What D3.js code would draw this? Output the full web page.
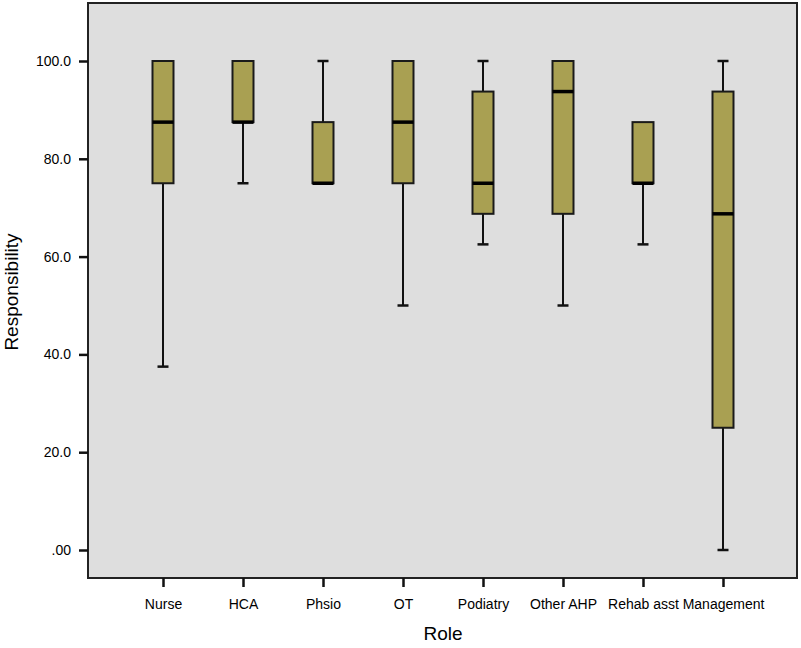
<!DOCTYPE html>
<html><head><meta charset="utf-8">
<script src="https://cdn.jsdelivr.net/npm/d3@7"></script>
<style>body{margin:0;background:#fff}svg{display:block}</style>
</head><body>
<svg id="c" width="801" height="648"></svg>
<script>
const categories = ["Nurse","HCA","Phsio","OT","Podiatry","Other AHP","Rehab asst","Management"];
const whiskerLow = [37.5, 75, 75, 50, 62.5, 50, 62.5, 0];
const q1 =         [75, 87.5, 75, 75, 68.75, 68.75, 75, 25];
const median =     [87.5, 87.5, 75, 87.5, 75, 93.75, 75, 68.75];
const q3 =         [100, 100, 87.5, 100, 93.75, 100, 87.5, 93.75];
const whiskerHigh =[100, 100, 100, 100, 100, 100, 87.5, 100];
const yTicks = [0, 20, 40, 60, 80, 100];
const yTickLabels = [".00", "20.0", "40.0", "60.0", "80.0", "100.0"];

const svg = d3.select("#c");
const plot = {left: 88, right: 797, top: 3, bottom: 578};
const x = d3.scalePoint().domain(categories).range([163, 723]);
const y = d3.scaleLinear().domain([0, 100]).range([550, 61]);
const font = "'Liberation Sans', Arial, sans-serif";

svg.append("rect").attr("x", plot.left).attr("y", plot.top)
  .attr("width", plot.right - plot.left).attr("height", plot.bottom - plot.top)
  .attr("fill", "#dedede");

const data = categories.map((c, i) => ({c, lo: whiskerLow[i], q1: q1[i], med: median[i], q3: q3[i], hi: whiskerHigh[i]}));
const bw = 21, cw = 11;
const g = svg.append("g");
data.forEach(d => {
  const cx = x(d.c);
  if (d.hi > d.q3) {
    g.append("line").attr("x1", cx).attr("x2", cx).attr("y1", y(d.q3)).attr("y2", y(d.hi)).attr("stroke", "#111").attr("stroke-width", 2);
    g.append("line").attr("x1", cx - cw/2).attr("x2", cx + cw/2).attr("y1", y(d.hi)).attr("y2", y(d.hi)).attr("stroke", "#111").attr("stroke-width", 2.5);
  }
  if (d.lo < d.q1) {
    g.append("line").attr("x1", cx).attr("x2", cx).attr("y1", y(d.q1)).attr("y2", y(d.lo)).attr("stroke", "#111").attr("stroke-width", 2);
    g.append("line").attr("x1", cx - cw/2).attr("x2", cx + cw/2).attr("y1", y(d.lo)).attr("y2", y(d.lo)).attr("stroke", "#111").attr("stroke-width", 2.5);
  }
  g.append("rect").attr("x", cx - bw/2).attr("y", y(d.q3)).attr("width", bw).attr("height", y(d.q1) - y(d.q3))
    .attr("fill", "#a9a052").attr("stroke", "#1a1a1a").attr("stroke-width", 2);
  g.append("line").attr("x1", cx - bw/2).attr("x2", cx + bw/2).attr("y1", y(d.med)).attr("y2", y(d.med)).attr("stroke", "#000").attr("stroke-width", 3.5);
});

svg.append("rect").attr("x", plot.left).attr("y", plot.top)
  .attr("width", plot.right - plot.left).attr("height", plot.bottom - plot.top)
  .attr("fill", "none").attr("stroke", "#222").attr("stroke-width", 2);

const yAxis = d3.axisLeft(y).tickValues(yTicks).tickSize(9).tickPadding(8)
  .tickFormat((v, i) => yTickLabels[i]);
const ya = svg.append("g").attr("transform", `translate(${plot.left},0)`).call(yAxis);
ya.select(".domain").remove();
ya.selectAll(".tick line").attr("stroke", "#111").attr("stroke-width", 2.5);
ya.selectAll(".tick text").attr("font-family", font).attr("font-size", 14).attr("fill", "#000");

const xAxis = d3.axisBottom(x).tickSize(9).tickPadding(12);
const xa = svg.append("g").attr("transform", `translate(0,${plot.bottom})`).call(xAxis);
xa.select(".domain").remove();
xa.selectAll(".tick line").attr("stroke", "#111").attr("stroke-width", 2.5);
xa.selectAll(".tick text").attr("font-family", font).attr("font-size", 14).attr("fill", "#000");

svg.append("text").attr("x", 443).attr("y", 640).attr("text-anchor", "middle")
  .attr("font-family", font).attr("font-size", 19).attr("fill", "#000").text("Role");
svg.append("text").attr("transform", "translate(18,292) rotate(-90)").attr("text-anchor", "middle")
  .attr("font-family", font).attr("font-size", 19).attr("fill", "#000").text("Responsibility");
</script>
</body></html>
